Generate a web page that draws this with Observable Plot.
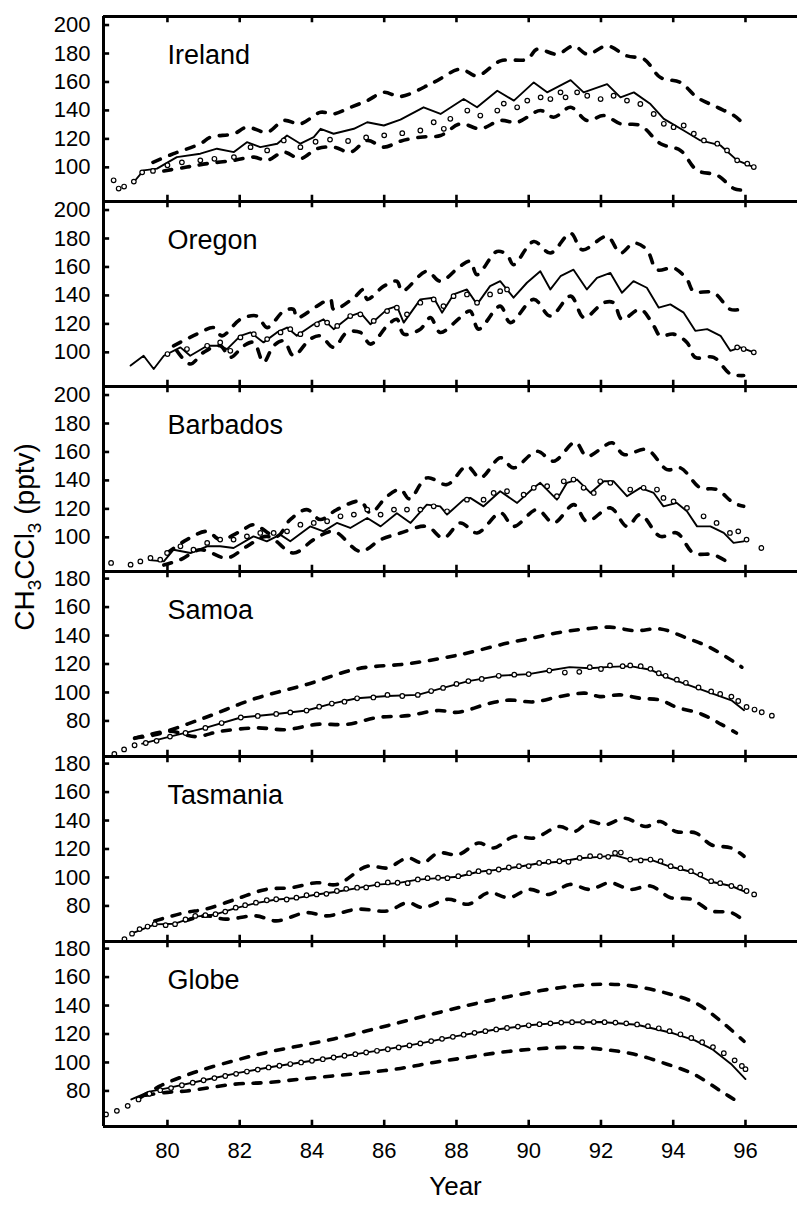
<!DOCTYPE html>
<html>
<head>
<meta charset="utf-8">
<script src="https://cdn.jsdelivr.net/npm/d3@7"></script>
<script src="https://cdn.jsdelivr.net/npm/@observablehq/plot@0.6"></script>
<style>
  body { margin: 0; background: #fff; }
  #chart svg { display: block; }
</style>
</head>
<body>
<div id="chart"></div>
<script>
// ---------------- DATA ([year, pptv]) ----------------
const panelNames = ["Ireland", "Oregon", "Barbados", "Samoa", "Tasmania", "Globe"];
const panelBase = [76, 76, 76, 55, 55, 55];          // bottom of each panel's y domain
const panelSpan = 130;                                 // y-domain height of each panel
const yTicksNorth = [100, 120, 140, 160, 180, 200];
const yTicksSouth = [80, 100, 120, 140, 160, 180];
const xTicks = [80, 82, 84, 86, 88, 90, 92, 94, 96];
const xDomain = [78.23, 97.44];

const irelandUpper = [[79.6,103.5],[80.17,109.6],[80.91,116.6],[81.19,121.2],[81.84,123.6],[82.2,128.2],[82.76,124.7],[83.22,132.9],[83.68,130.6],[84.24,138.7],[84.6,137.5],[85.07,142.2],[85.53,146.9],[85.99,152.7],[86.45,149.8],[87.37,159.7],[88.11,169.0],[88.57,164.3],[89.22,174.8],[89.96,176.0],[90.23,183.0],[90.78,179.5],[91.25,185.3],[91.62,179.5],[92.17,185.3],[92.72,178.3],[93.19,176.0],[93.65,163.1],[94.2,159.7],[94.66,149.2],[95.22,142.2],[95.68,136.4],[95.95,130.6]];
const irelandLower = [[79.9,97.5],[80.54,100.2],[81.1,102.6],[81.84,104.9],[82.39,107.2],[82.76,104.9],[83.22,110.7],[83.68,106.1],[84.14,113.1],[84.6,114.2],[85.07,110.7],[85.53,118.9],[85.99,114.2],[86.45,118.4],[87.0,121.2],[87.56,122.4],[88.11,130.6],[88.66,127.1],[89.22,132.9],[89.68,131.7],[90.33,139.9],[90.69,135.2],[91.16,142.2],[91.62,132.9],[92.08,136.4],[92.54,130.6],[93.09,129.4],[93.65,116.6],[94.2,111.9],[94.66,97.9],[95.22,94.4],[95.68,85.1],[95.95,83.9]];
const irelandModel = [[79.07,89.7],[79.34,97.9],[79.71,99.1],[80.26,107.2],[80.91,109.6],[81.37,113.1],[81.84,110.7],[82.2,117.7],[82.57,114.2],[83.04,116.6],[83.31,122.4],[83.68,116.6],[84.05,121.2],[84.24,127.1],[84.6,123.6],[85.16,127.1],[85.53,131.7],[85.99,129.4],[86.45,133.5],[87.09,142.2],[87.56,137.5],[88.2,148.0],[88.57,142.2],[89.13,153.8],[89.59,146.9],[90.14,159.7],[90.51,152.7],[91.16,161.3],[91.52,152.7],[92.17,158.5],[92.54,149.2],[92.91,152.7],[93.37,144.5],[93.74,134.1],[94.29,125.9],[94.75,118.9],[95.31,115.4],[95.77,104.9],[96.23,100.2]];
const irelandObs = [[78.51,90.9],[78.65,85.1],[78.8,86.5],[79.07,90.0],[79.3,96.5],[79.6,97.5],[80.0,101.5],[80.4,103.5],[80.91,104.9],[81.3,106.0],[81.84,107.2],[82.3,114.2],[82.76,111.9],[83.22,118.9],[83.68,114.2],[84.1,118.0],[84.5,119.5],[85.0,118.5],[85.5,121.0],[86.0,122.5],[86.5,124.0],[87.0,125.9],[87.37,131.7],[87.65,127.1],[87.83,134.1],[88.3,139.9],[88.66,136.4],[89.13,139.9],[89.31,144.8],[89.68,142.2],[89.96,146.9],[90.33,149.2],[90.6,148.0],[90.88,152.7],[91.02,149.2],[91.34,152.7],[91.62,150.3],[91.99,148.0],[92.35,150.3],[92.72,146.9],[93.09,144.5],[93.46,137.5],[93.74,130.6],[94.01,128.2],[94.29,129.4],[94.57,123.6],[94.85,118.9],[95.22,116.6],[95.49,111.9],[95.77,104.9],[96.05,102.6],[96.23,100.2]];

const oregonUpper = [[80.17,104.6],[80.91,114.0],[81.28,117.4],[81.51,111.6],[82.02,123.2],[82.48,125.5],[82.76,117.4],[83.22,129.0],[83.49,130.2],[83.58,124.4],[84.14,132.5],[84.51,137.2],[84.6,130.2],[85.16,138.4],[85.43,144.2],[85.53,137.2],[85.99,146.5],[86.35,150.0],[86.5,143.0],[87.18,157.0],[87.55,150.0],[88.1,160.5],[88.38,164.0],[88.57,154.6],[89.12,170.9],[89.4,168.6],[89.58,161.6],[90.14,177.9],[90.6,169.8],[91.16,183.7],[91.48,172.1],[92.17,181.4],[92.54,169.8],[92.91,176.8],[93.27,172.1],[93.55,158.1],[94.01,159.3],[94.38,151.2],[94.56,143.0],[95.12,141.9],[95.58,130.2],[95.86,130.2]];
const oregonLower = [[80.26,101.1],[80.63,91.8],[81.0,100.0],[81.46,104.6],[81.74,96.5],[82.11,104.6],[82.39,107.0],[82.66,93.0],[82.94,104.6],[83.22,108.1],[83.49,97.6],[83.95,109.3],[84.23,111.6],[84.6,103.5],[84.97,114.0],[85.34,114.0],[85.62,105.8],[86.08,118.6],[86.35,123.2],[86.54,112.8],[87.0,116.3],[87.28,124.4],[87.55,114.0],[88.1,124.4],[88.38,129.0],[88.61,116.3],[89.21,132.5],[89.49,120.9],[90.14,137.2],[90.6,125.5],[91.16,139.5],[91.53,124.4],[92.08,134.9],[92.35,134.9],[92.58,123.2],[93.09,130.2],[93.46,118.6],[93.64,111.6],[94.01,112.8],[94.38,107.0],[94.61,96.5],[95.12,96.5],[95.58,84.9],[95.95,83.7]];
const oregonModel = [[78.98,90.7],[79.34,97.6],[79.62,88.3],[79.9,97.6],[80.36,103.5],[80.63,97.6],[81.1,104.6],[81.46,104.6],[81.65,102.3],[82.02,111.6],[82.3,114.0],[82.66,107.0],[83.03,114.0],[83.31,117.4],[83.58,111.6],[84.05,119.7],[84.32,123.2],[84.6,116.3],[85.06,125.5],[85.34,127.9],[85.62,119.7],[86.08,130.2],[86.35,132.5],[86.54,120.9],[87.0,137.2],[87.37,138.4],[87.6,127.9],[87.92,140.7],[88.29,144.2],[88.57,133.7],[88.93,146.5],[89.21,150.0],[89.58,138.4],[89.95,148.9],[90.32,157.0],[90.6,144.2],[90.88,153.5],[91.24,158.1],[91.61,144.2],[91.89,152.3],[92.26,155.8],[92.58,141.9],[92.9,150.0],[93.27,145.4],[93.6,131.4],[93.92,133.7],[94.29,127.9],[94.61,115.1],[94.94,116.3],[95.31,111.6],[95.58,101.1],[95.86,103.5],[96.23,100.0]];
const oregonObs = [[80.0,98.8],[80.54,102.3],[81.1,104.6],[81.46,107.0],[81.74,101.1],[82.02,110.5],[82.39,112.8],[82.76,109.3],[83.13,114.0],[83.4,116.3],[83.68,112.8],[84.14,119.7],[84.42,120.9],[84.7,118.6],[85.06,125.5],[85.34,126.7],[85.71,122.1],[86.08,129.0],[86.35,131.4],[86.63,126.7],[87.0,134.9],[87.37,137.2],[87.64,132.5],[87.92,139.5],[88.29,140.7],[88.57,134.9],[88.93,140.7],[89.21,143.0],[89.4,144.2],[95.77,103.5],[95.95,102.3],[96.23,100.0]];

const barbadosUpper = [[79.99,89.0],[80.54,98.4],[81.1,104.2],[81.46,98.4],[82.02,104.2],[82.38,108.9],[83.03,100.7],[83.4,112.5],[83.86,119.5],[84.23,112.5],[84.69,119.5],[85.34,125.3],[85.62,117.2],[86.08,128.9],[86.45,133.6],[86.7,127.0],[87.18,141.8],[87.74,137.1],[88.29,150.0],[88.66,141.8],[89.22,155.9],[89.58,148.8],[90.23,160.5],[90.69,153.5],[91.29,166.9],[91.61,157.0],[92.31,166.4],[92.63,158.2],[93.27,161.7],[93.83,147.6],[94.2,148.8],[94.75,134.8],[95.21,133.6],[95.67,124.2],[95.95,121.8]];
const barbadosLower = [[79.9,80.5],[80.36,84.3],[80.91,91.3],[81.65,85.5],[82.2,93.7],[82.76,100.7],[83.49,89.0],[84.05,98.4],[84.6,104.2],[85.34,90.1],[85.9,98.4],[86.45,103.0],[87.18,107.7],[87.64,99.5],[88.11,110.1],[88.57,103.1],[89.22,117.2],[89.58,107.7],[90.23,119.5],[90.69,110.1],[91.25,123.0],[91.61,111.3],[92.26,120.7],[92.72,107.7],[93.09,116.0],[93.64,100.7],[94.1,103.1],[94.56,89.0],[95.12,87.8],[95.54,82.0]];
const barbadosModel = [[79.5,84.0],[79.9,83.1],[80.17,91.3],[80.64,89.0],[81.1,93.7],[81.46,93.7],[81.83,92.5],[82.38,100.7],[82.75,97.2],[83.12,101.9],[83.4,97.2],[83.95,107.7],[84.32,104.2],[84.69,110.1],[85.06,106.6],[85.53,113.6],[85.9,107.7],[86.35,117.0],[86.73,110.1],[87.18,123.0],[87.55,121.8],[87.74,116.0],[88.2,126.5],[88.38,127.7],[88.75,121.8],[89.21,132.4],[89.68,124.2],[90.14,134.8],[90.32,138.3],[90.78,126.5],[91.06,138.3],[91.34,140.6],[91.71,131.2],[92.08,139.4],[92.35,139.4],[92.72,128.9],[93.09,134.8],[93.46,131.2],[93.73,121.8],[94.1,124.2],[94.38,118.3],[94.66,107.7],[95.03,107.7],[95.4,103.1],[95.67,96.1],[95.95,97.2]];
const barbadosObs = [[78.44,82.0],[78.98,80.8],[79.25,83.1],[79.53,85.5],[79.8,84.3],[79.99,89.0],[80.36,93.7],[80.72,91.3],[81.1,96.1],[81.46,98.4],[81.83,98.4],[82.2,100.7],[82.57,103.1],[82.94,103.1],[83.31,104.2],[83.68,108.9],[84.05,110.1],[84.42,111.3],[84.79,114.8],[85.16,116.0],[85.53,119.5],[85.9,116.0],[86.27,119.5],[86.63,119.5],[87.0,119.5],[87.37,121.8],[87.74,118.3],[88.29,126.5],[88.75,126.5],[89.03,131.2],[89.4,132.4],[89.86,130.0],[90.14,134.8],[90.51,135.9],[90.78,128.9],[90.97,139.4],[91.24,140.6],[91.52,134.8],[91.8,131.2],[91.98,139.4],[92.26,138.3],[92.81,133.6],[93.18,134.8],[93.55,133.6],[93.73,127.7],[94.01,125.3],[94.38,120.7],[94.84,114.8],[95.2,110.1],[95.57,103.1],[95.8,104.2],[96.03,98.4],[96.44,92.5]];

const samoaUpper = [[79.1,68.0],[79.65,70.2],[81.05,82.4],[82.45,95.9],[83.85,105.6],[85.25,116.6],[86.65,120.2],[88.05,126.3],[89.45,134.9],[90.15,138.5],[90.85,142.2],[91.55,144.6],[92.25,145.9],[92.95,143.4],[93.65,144.6],[94.35,138.5],[95.05,131.2],[95.9,117.8]];
const samoaLower = [[79.09,67.8],[80.07,72.7],[80.77,69.0],[81.47,72.7],[82.45,75.1],[83.29,73.9],[84.13,77.6],[84.97,77.6],[85.81,82.4],[86.65,83.7],[87.49,87.3],[88.05,86.1],[88.89,92.2],[89.45,94.6],[90.15,93.4],[90.85,97.1],[91.55,99.5],[91.97,97.1],[92.53,98.3],[93.09,95.9],[93.65,94.6],[94.07,89.8],[94.77,84.9],[95.33,77.6],[95.75,71.5]];
const samoaModel = [[79.3,64.0],[80.07,69.0],[81.05,75.1],[82.03,82.4],[83.01,84.9],[83.85,87.3],[84.55,92.2],[85.25,95.9],[86.09,97.5],[86.93,98.3],[87.63,103.2],[88.33,108.0],[89.17,111.7],[90.0,112.9],[90.57,115.4],[91.13,117.8],[91.69,117.0],[92.25,118.0],[92.81,118.5],[93.37,116.0],[93.79,111.0],[94.35,105.8],[95.05,99.5],[95.61,94.5],[95.96,87.5]];
const samoaObs = [[78.53,56.8],[78.8,60.0],[79.09,62.9],[79.4,64.5],[79.7,66.0],[80.07,69.0],[80.5,71.5],[81.05,75.1],[81.5,78.5],[82.03,82.4],[82.5,83.5],[83.01,84.9],[83.4,86.0],[83.85,87.3],[84.2,90.0],[84.55,92.2],[84.9,93.5],[85.25,95.9],[85.7,96.5],[86.09,98.3],[86.5,97.5],[86.93,98.3],[87.3,101.0],[87.63,103.2],[88.0,106.0],[88.33,108.0],[88.7,109.5],[89.17,111.7],[89.6,112.5],[90.0,112.9],[90.57,115.4],[91.0,114.0],[91.4,114.5],[91.69,117.8],[92.0,116.5],[92.25,119.0],[92.6,118.5],[92.81,119.0],[93.1,118.5],[93.37,116.6],[93.6,113.5],[93.79,111.7],[94.1,109.0],[94.35,106.8],[94.7,103.5],[95.05,100.7],[95.3,99.0],[95.61,97.1],[95.8,94.0],[96.03,89.8],[96.25,88.0],[96.45,86.1],[96.73,83.7]];

const tasmaniaUpper = [[79.65,69.5],[80.49,75.3],[81.05,77.7],[81.89,84.7],[82.73,91.6],[83.43,92.8],[84.13,96.3],[84.69,95.1],[85.53,107.9],[86.09,106.7],[86.65,113.7],[87.07,110.2],[87.49,117.2],[88.05,116.0],[88.61,124.2],[89.03,120.7],[89.59,128.8],[90.15,127.7],[90.85,135.8],[91.27,132.3],[91.69,139.3],[92.11,137.0],[92.67,141.6],[93.23,135.8],[93.65,139.3],[94.07,132.3],[94.63,131.2],[95.05,123.0],[95.61,120.7],[95.96,114.9]];
const tasmaniaLower = [[80.49,69.5],[81.05,73.0],[81.61,70.7],[82.45,73.0],[83.01,69.5],[83.85,75.3],[84.41,73.0],[85.25,77.7],[86.09,76.5],[86.65,82.3],[87.07,78.8],[87.77,84.7],[88.33,81.2],[88.89,89.3],[89.45,85.8],[90.01,91.6],[90.57,88.1],[91.13,95.1],[91.69,91.6],[92.25,96.3],[92.81,91.6],[93.37,94.0],[93.93,85.8],[94.49,84.7],[95.05,76.5],[95.61,75.3],[95.96,69.5]];
const tasmaniaModel = [[79.0,60.5],[79.65,67.0],[80.21,67.5],[80.77,72.5],[81.33,74.0],[81.89,78.5],[82.45,82.0],[83.01,84.5],[83.57,85.5],[84.13,88.0],[84.69,90.0],[85.25,92.5],[85.81,95.0],[86.37,96.0],[86.93,98.5],[87.49,99.5],[88.05,100.5],[88.61,104.0],[89.17,105.5],[89.73,107.5],[90.29,110.0],[90.85,111.0],[91.41,113.5],[91.97,114.5],[92.39,115.5],[92.81,112.5],[93.37,112.5],[93.93,107.5],[94.49,104.0],[95.05,97.0],[95.61,94.0],[96.03,89.5]];
const tasmaniaObs = [[78.81,56.7],[79.02,60.5],[79.23,63.7],[79.45,65.5],[79.65,67.2],[79.95,66.5],[80.21,67.2],[80.5,70.5],[80.77,73.0],[81.05,73.5],[81.33,74.2],[81.6,76.0],[81.89,78.8],[82.15,80.5],[82.45,82.3],[82.75,84.0],[83.01,84.7],[83.3,84.5],[83.57,85.8],[83.85,87.5],[84.13,88.1],[84.4,88.5],[84.69,90.5],[84.95,92.0],[85.25,92.8],[85.5,93.0],[85.81,95.1],[86.1,96.5],[86.37,96.3],[86.65,96.0],[86.93,98.6],[87.2,99.5],[87.49,99.8],[87.75,99.5],[88.05,100.9],[88.35,103.0],[88.61,104.4],[88.9,104.0],[89.17,105.6],[89.45,107.0],[89.73,107.9],[90.0,108.0],[90.29,110.2],[90.55,111.0],[90.85,111.4],[91.1,111.0],[91.41,113.7],[91.7,115.0],[91.97,114.9],[92.2,114.5],[92.39,117.2],[92.55,117.5],[92.81,112.6],[93.1,112.0],[93.37,112.6],[93.65,111.5],[93.93,107.9],[94.2,106.5],[94.49,104.4],[94.75,102.0],[95.05,97.4],[95.3,96.0],[95.61,94.0],[95.85,93.0],[96.03,90.5],[96.24,88.1]];

const globeUpper = [[79.25,75.3],[79.8,83.5],[80.73,92.9],[81.84,101.2],[82.76,107.1],[83.68,111.8],[84.6,116.5],[85.53,122.3],[86.45,128.2],[87.37,134.2],[88.29,140.0],[89.1,144.5],[89.9,148.5],[90.85,152.5],[91.6,154.5],[92.2,155.0],[92.8,154.0],[93.65,149.8],[94.63,141.6],[95.33,128.8],[95.96,114.9]];
const globeLower = [[79.4,77.0],[80.0,79.0],[80.54,80.0],[81.84,84.7],[82.76,85.9],[83.68,88.3],[84.6,90.6],[85.53,92.9],[86.45,95.8],[87.37,100.0],[88.29,103.5],[89.22,107.1],[90.14,109.4],[91.06,110.6],[91.98,109.4],[92.9,105.9],[93.83,98.8],[94.57,91.8],[95.31,80.0],[95.9,70.6]];
const globeModel = [[79.0,74.0],[79.5,79.5],[80.0,82.0],[81.0,87.5],[82.0,92.9],[83.0,97.3],[84.0,101.2],[85.0,105.0],[86.0,109.0],[87.0,113.4],[88.0,118.5],[89.0,122.8],[90.0,126.1],[91.0,128.2],[92.0,128.4],[93.0,126.5],[94.0,120.5],[94.6,115.5],[95.1,109.0],[95.6,99.0],[96.0,88.3]];
const globeObs = [[78.3,63.5],[78.6,66.0],[78.9,69.5],[79.2,74.0],[79.5,78.0],[79.8,80.5],[80.1,82.0],[80.4,84.0],[80.7,85.8],[81.0,87.5],[81.3,89.0],[81.6,90.5],[81.9,92.0],[82.2,93.6],[82.5,95.0],[82.8,96.5],[83.1,97.7],[83.4,98.9],[83.7,100.0],[84.0,101.2],[84.3,102.3],[84.6,103.5],[84.9,104.7],[85.2,105.8],[85.5,107.0],[85.8,108.2],[86.1,109.3],[86.4,110.6],[86.7,112.0],[87.0,113.4],[87.3,115.0],[87.6,116.6],[87.9,118.0],[88.2,119.5],[88.5,120.8],[88.8,122.0],[89.1,123.2],[89.4,124.2],[89.7,125.2],[90.0,126.1],[90.3,126.9],[90.6,127.5],[90.9,128.0],[91.2,128.3],[91.5,128.4],[91.8,128.4],[92.1,128.3],[92.4,128.0],[92.7,127.5],[93.0,126.7],[93.3,125.5],[93.6,124.0],[93.9,122.0],[94.2,119.8],[94.5,117.2],[94.8,114.2],[95.1,110.8],[95.4,106.5],[95.7,101.5],[95.9,97.5],[96.0,95.3]];

const seriesList = [
  [0, "upper", irelandUpper], [0, "lower", irelandLower], [0, "model", irelandModel], [0, "obs", irelandObs],
  [1, "upper", oregonUpper], [1, "lower", oregonLower], [1, "model", oregonModel], [1, "obs", oregonObs],
  [2, "upper", barbadosUpper], [2, "lower", barbadosLower], [2, "model", barbadosModel], [2, "obs", barbadosObs],
  [3, "upper", samoaUpper], [3, "lower", samoaLower], [3, "model", samoaModel], [3, "obs", samoaObs],
  [4, "upper", tasmaniaUpper], [4, "lower", tasmaniaLower], [4, "model", tasmaniaModel], [4, "obs", tasmaniaObs],
  [5, "upper", globeUpper], [5, "lower", globeLower], [5, "model", globeModel], [5, "obs", globeObs]
];

// ---------------- STACKED-PANEL Y COORDINATE ----------------
const nP = panelNames.length;
const gy = (p, v) => v - panelBase[p] + (nP - 1 - p) * panelSpan;

const rows = seriesList.flatMap(([p, kind, pts]) =>
  pts.map(([year, value]) => ({key: p + "-" + kind, panel: p, kind, year, value, Y: gy(p, value)})));
const bounds = rows.filter(d => d.kind === "upper" || d.kind === "lower");
const model = rows.filter(d => d.kind === "model");
const obs = rows.filter(d => d.kind === "obs");

const boundaries = d3.range(nP + 1).map(i => i * panelSpan);
const yTickRows = panelNames.flatMap((name, p) =>
  (panelBase[p] > 70 ? yTicksNorth : yTicksSouth).map(v => ({p, v, Y: gy(p, v)})));
const xTickRows = boundaries.flatMap(b => xTicks.map(year => ({year, b})));
const labelRows = panelNames.map((name, p) => ({name, p, Y: (nP - p) * panelSpan - 27}));
const topY = nP * panelSpan;

const FONT = "'Liberation Sans', Arial, Helvetica, sans-serif";

const chart = Plot.plot({
  width: 797,
  height: 1206,
  marginLeft: 103,
  marginRight: 0,
  marginTop: 16,
  marginBottom: 80,
  style: {fontFamily: FONT, fontSize: "22px", color: "black", background: "white"},
  x: {domain: xDomain, ticks: xTicks, tickSize: 0, tickPadding: 16, label: null, tickFormat: d => String(d)},
  y: {domain: [0, topY], axis: null},
  marks: [
    Plot.line(bounds, {x: "year", y: "Y", z: "key", stroke: "black", strokeWidth: 3.6,
      strokeDasharray: "8,10", strokeLinecap: "round", curve: "catmull-rom"}),
    Plot.line(model, {x: "year", y: "Y", z: "key", stroke: "black", strokeWidth: 1.9}),
    Plot.dot(obs, {x: "year", y: "Y", r: 2.3, stroke: "black", strokeWidth: 1.2, fill: "white"}),
    // frame
    Plot.ruleY(boundaries, {y: d => d, x1: xDomain[0], x2: xDomain[1], stroke: "black", strokeWidth: 3}),
    Plot.ruleX([xDomain[0]], {x: d => d, y1: 0, y2: topY, stroke: "black", strokeWidth: 3}),
    // inward x ticks on every panel edge
    Plot.ruleX(xTickRows, {x: "year", y1: d => Math.max(0, d.b - 4.4), y2: d => Math.min(topY, d.b + 4.4),
      stroke: "black", strokeWidth: 2.6}),
    // inward y ticks + labels
    Plot.ruleY(yTickRows, {y: "Y", x1: xDomain[0], x2: xDomain[0] + 0.17, stroke: "black", strokeWidth: 2.6}),
    Plot.text(yTickRows, {x: xDomain[0], y: "Y", text: d => String(d.v), dx: -13, textAnchor: "end",
      fontSize: 22, fill: "black"}),
    // panel names
    Plot.text(labelRows, {x: 80, y: "Y", text: "name", textAnchor: "start", fontSize: 27, fill: "black"}),
    // x title
    Plot.text(["Year"], {frameAnchor: "bottom", dx: 5, dy: 68, text: d => d, fontSize: 26, fill: "black"})
  ]
});
document.getElementById("chart").appendChild(chart);

// y title with real subscripts
const svg = d3.select(chart.tagName.toLowerCase() === "svg" ? chart : chart.querySelector("svg"));
const t = svg.append("text")
  .attr("transform", "translate(34,537) rotate(-90)")
  .attr("text-anchor", "middle")
  .attr("font-family", FONT)
  .attr("font-size", 28)
  .attr("fill", "black");
t.append("tspan").text("CH");
t.append("tspan").attr("font-size", 19).attr("dy", 7).text("3");
t.append("tspan").attr("dy", -7).text("CCl");
t.append("tspan").attr("font-size", 19).attr("dy", 7).text("3");
t.append("tspan").attr("dy", -7).text(" (pptv)");
</script>
</body>
</html>
